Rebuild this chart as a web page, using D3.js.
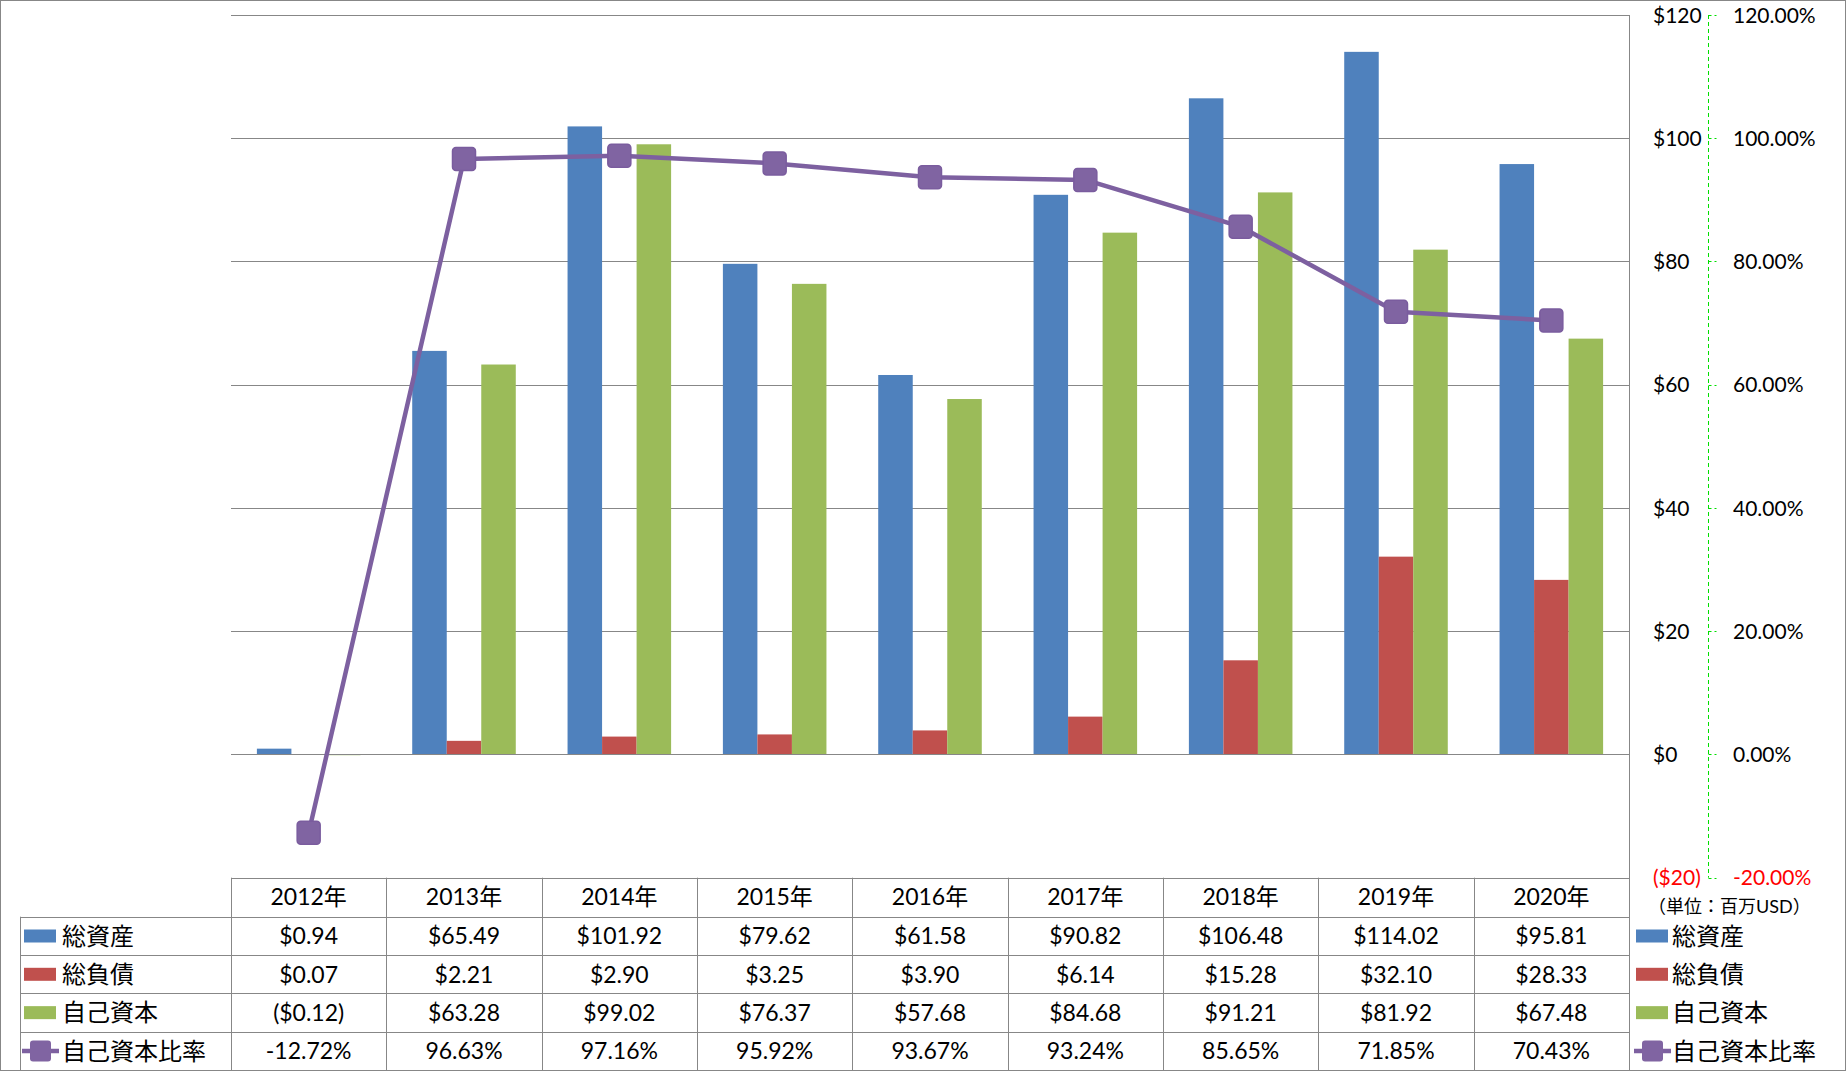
<!DOCTYPE html>
<html><head><meta charset="utf-8">
<script src="https://cdn.jsdelivr.net/npm/d3@7"></script>
<style>
html,body{margin:0;padding:0;background:#fff;}
svg{display:block;}
text{font-family:Lato,"Noto Sans CJK JP",sans-serif;}
</style></head>
<body>
<svg id="c" width="1846" height="1071"></svg>
<script>
const years = ["2012年","2013年","2014年","2015年","2016年","2017年","2018年","2019年","2020年"];
const seriesNames = ["総資産","総負債","自己資本"];
const lineName = "自己資本比率";
const totalAssets = [0.94,65.49,101.92,79.62,61.58,90.82,106.48,114.02,95.81];
const totalLiab   = [0.07,2.21,2.90,3.25,3.90,6.14,15.28,32.10,28.33];
const equity      = [-0.12,63.28,99.02,76.37,57.68,84.68,91.21,81.92,67.48];
const equityRatio = [-0.1272,0.9663,0.9716,0.9592,0.9367,0.9324,0.8565,0.7185,0.7043];
const leftTicks = [-20,0,20,40,60,80,100,120];
const rightTicks = [-0.2,0,0.2,0.4,0.6,0.8,1.0,1.2];
const unitLabel = "（単位：百万USD）";
const colors = ["#4F81BD","#C0504D","#9BBB59"];
const lineColor = "#8064A2";
const gridColor = "#878787";

const svg = d3.select("#c");
const X0 = 231, X1 = 1629, YT = 15, YB = 877.7;
const x = d3.scaleBand().domain(years).range([X0, X1]);
const xs = d3.scaleBand().domain(seriesNames).range([0, x.bandwidth()]).paddingInner(0).paddingOuter(0.75);
const y = d3.scaleLinear().domain([-20,120]).range([YB, YT]);
const y2 = d3.scaleLinear().domain([-0.2,1.2]).range([YB, YT]);

// outer border
svg.append("rect").attr("x",0.5).attr("y",0.5).attr("width",1845).attr("height",1070)
  .attr("fill","none").attr("stroke",gridColor).attr("stroke-width",1);

// gridlines
svg.append("g").selectAll("line").data(leftTicks).join("line")
  .attr("x1",X0).attr("x2",X1).attr("y1",d=>Math.round(y(d))+0.5).attr("y2",d=>Math.round(y(d))+0.5)
  .attr("stroke",gridColor).attr("stroke-width",1);

// bars
const seriesData = [totalAssets,totalLiab,equity];
seriesData.forEach((vals,si)=>{
  svg.append("g").selectAll("rect").data(vals).join("rect")
    .attr("x",(d,i)=>x(years[i])+xs(seriesNames[si]))
    .attr("width",xs.bandwidth())
    .attr("y",d=>y(Math.max(0,d)))
    .attr("height",d=>Math.abs(y(d)-y(0)))
    .attr("fill",colors[si]);
});
// zero line redraw on top
svg.append("line").attr("x1",X0).attr("x2",X1).attr("y1",Math.round(y(0))+0.5).attr("y2",Math.round(y(0))+0.5)
  .attr("stroke",gridColor).attr("stroke-width",1);

// line series
const lineGen = d3.line().x((d,i)=>x(years[i])+x.bandwidth()/2).y(d=>y2(d));
svg.append("path").datum(equityRatio).attr("d",lineGen)
  .attr("fill","none").attr("stroke","#7D60A0").attr("stroke-width",4.5).attr("stroke-linejoin","round");
svg.append("g").selectAll("rect").data(equityRatio).join("rect")
  .attr("x",(d,i)=>x(years[i])+x.bandwidth()/2-11.5)
  .attr("y",d=>y2(d)-11.5)
  .attr("width",23).attr("height",23).attr("rx",3.5)
  .attr("fill",lineColor).attr("stroke","#7A5C9E").attr("stroke-width",1.5);

// right plot border line
svg.append("line").attr("x1",X1+0.5).attr("x2",X1+0.5).attr("y1",YT).attr("y2",1070)
  .attr("stroke",gridColor).attr("stroke-width",1);

// secondary axis (green dashed)
const AX = 1708.5;
svg.append("line").attr("x1",AX).attr("x2",AX).attr("y1",YT).attr("y2",YB)
  .attr("stroke","#00E000").attr("stroke-width",1).attr("stroke-dasharray","4,3");
svg.append("g").selectAll("line").data(rightTicks).join("line")
  .attr("x1",AX).attr("x2",AX+8).attr("y1",d=>Math.round(y2(d))+0.5).attr("y2",d=>Math.round(y2(d))+0.5)
  .attr("stroke","#00E000").attr("stroke-width",1).attr("stroke-dasharray","3,3");

const fmtDollar = d => d<0 ? "($"+Math.abs(d)+")" : "$"+d;
svg.append("g").selectAll("text").data(leftTicks).join("text")
  .attr("x",1653).attr("y",d=>y(d)).attr("dy","0.36em")
  .attr("font-size",21).attr("fill",d=>d<0?"#FF0000":"#000")
  .text(fmtDollar);
svg.append("g").selectAll("text").data(rightTicks).join("text")
  .attr("x",1733).attr("y",d=>y2(d)).attr("dy","0.36em")
  .attr("font-size",21).attr("fill",d=>d<0?"#FF0000":"#000")
  .text(d=>d3.format(".2%")(d).replace("−","-"));

svg.append("text").attr("x",1648).attr("y",907).attr("dy","0.36em")
  .attr("font-size",18).attr("fill","#000").text(unitLabel);

// data table
const rowY = [877.7,916.7,955.3,993.3,1032,1070];
const tg = svg.append("g");
// horizontal lines
tg.selectAll("line.h").data(rowY.slice(1)).join("line").attr("class","h")
  .attr("x1",20).attr("x2",X1).attr("y1",d=>Math.round(d)+0.5).attr("y2",d=>Math.round(d)+0.5)
  .attr("stroke",gridColor);
// vertical lines
const vx = years.map(d=>x(d));
tg.selectAll("line.v").data(vx).join("line").attr("class","v")
  .attr("x1",d=>Math.round(d)+0.5).attr("x2",d=>Math.round(d)+0.5).attr("y1",YB).attr("y2",1070)
  .attr("stroke",gridColor);
tg.append("line").attr("x1",20.5).attr("x2",20.5).attr("y1",916.7).attr("y2",1070).attr("stroke",gridColor);

// header
tg.selectAll("text.hd").data(years).join("text").attr("class","hd")
  .attr("x",d=>x(d)+x.bandwidth()/2).attr("y",(rowY[0]+rowY[1])/2).attr("dy","0.36em")
  .attr("text-anchor","middle").attr("font-size",23).text(d=>d);

const fmtVal = d => d<0 ? "($"+d3.format(".2f")(Math.abs(d))+")" : "$"+d3.format(".2f")(d);
const tableRows = [
  {name:seriesNames[0], vals:totalAssets.map(fmtVal), key:"bar", color:colors[0]},
  {name:seriesNames[1], vals:totalLiab.map(fmtVal), key:"bar", color:colors[1]},
  {name:seriesNames[2], vals:equity.map(fmtVal), key:"bar", color:colors[2]},
  {name:lineName, vals:equityRatio.map(d=>d3.format(".2%")(d).replace("−","-")), key:"line", color:lineColor}
];
function legendKey(g, kx, cy, r){
  if(r.key==="bar"){
    g.append("rect").attr("x",kx).attr("y",cy-6.5).attr("width",32).attr("height",13).attr("fill",r.color);
  } else {
    g.append("line").attr("x1",kx-2).attr("x2",kx+35).attr("y1",cy).attr("y2",cy)
      .attr("stroke","#7D60A0").attr("stroke-width",4.5);
    g.append("rect").attr("x",kx+6).attr("y",cy-10.5).attr("width",21).attr("height",21).attr("rx",3)
      .attr("fill",lineColor);
  }
}
tableRows.forEach((r,ri)=>{
  const cy = (rowY[ri+1]+rowY[ri+2])/2;
  tg.append("g").selectAll("text").data(r.vals).join("text")
    .attr("x",(d,i)=>x(years[i])+x.bandwidth()/2).attr("y",cy).attr("dy","0.36em")
    .attr("text-anchor","middle").attr("font-size",23).text(d=>d);
  legendKey(tg, 24, cy, r);
  tg.append("text").attr("x",62).attr("y",cy).attr("dy","0.36em").attr("font-size",24).text(r.name);
  legendKey(tg, 1636, cy, r);
  tg.append("text").attr("x",1672).attr("y",cy).attr("dy","0.36em").attr("font-size",24).text(r.name);
});
</script>
</body></html>
